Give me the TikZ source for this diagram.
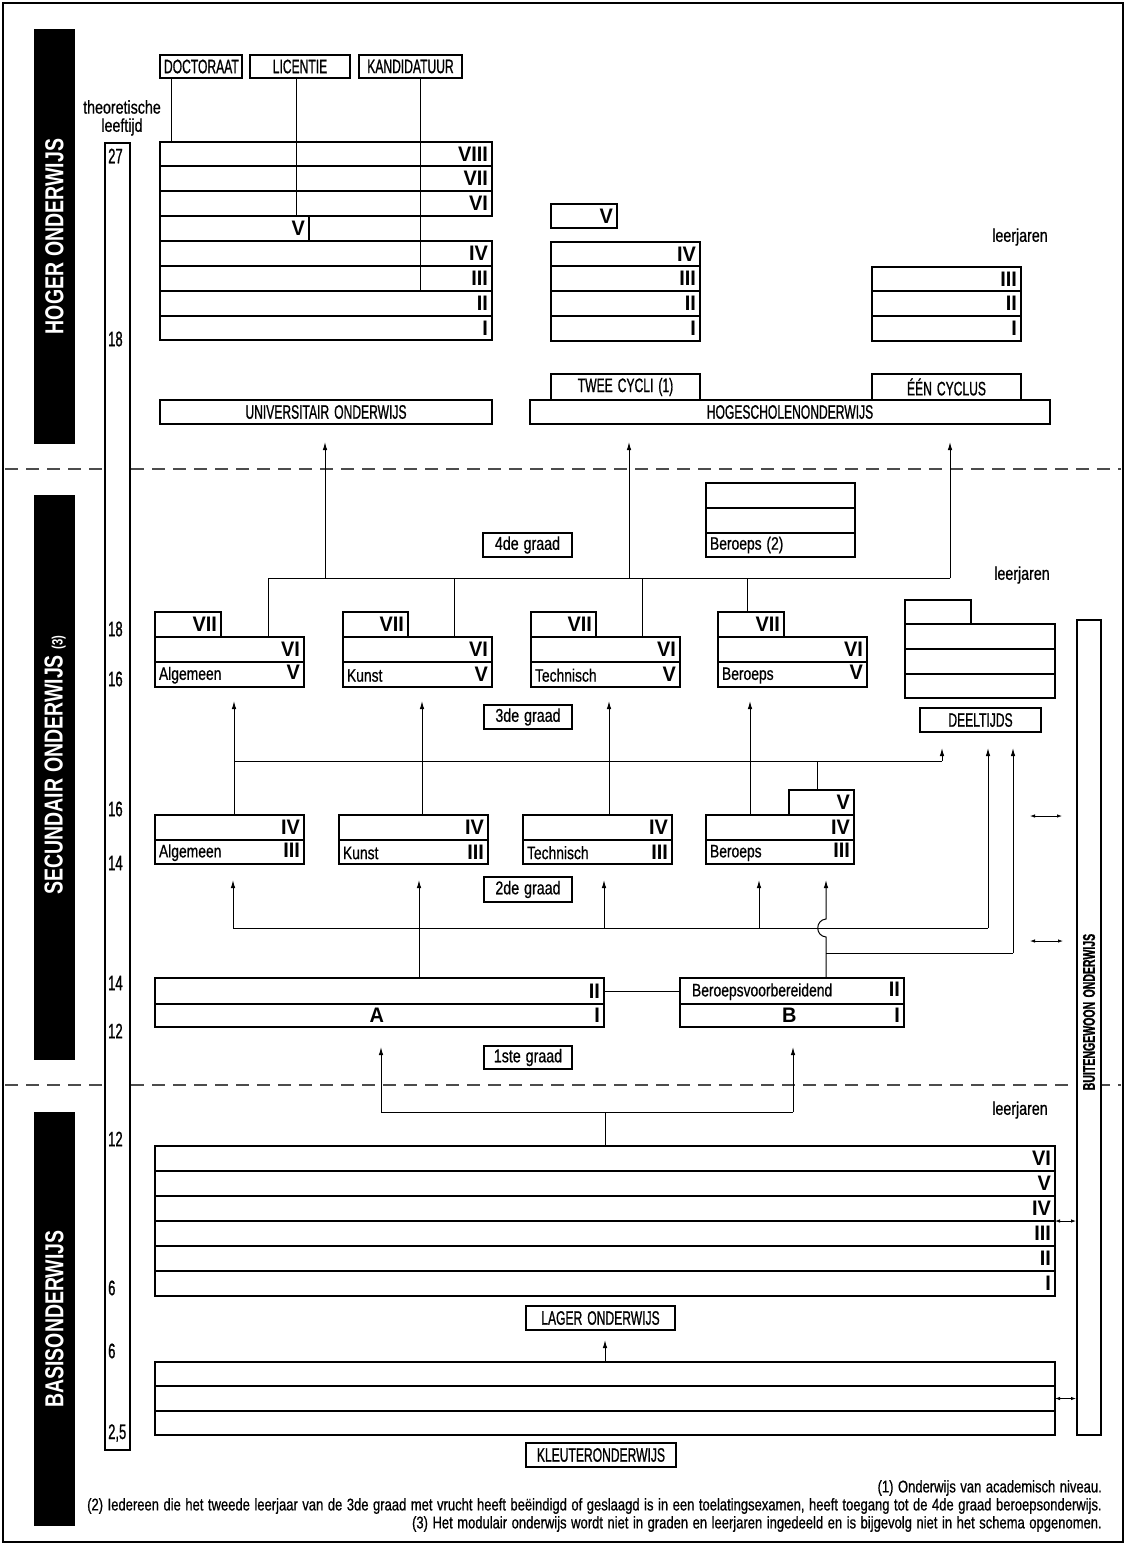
\documentclass[tikz,border=0pt]{standalone}
\usepackage{fontspec}
\setmainfont{Liberation Sans}[FakeStretch=0.77, WordSpace=1.25, FakeBold=0.7]
\newfontfamily\ucf{Liberation Sans}[FakeStretch=0.62, WordSpace=1.5, FakeBold=0.9]
\newfontfamily\numf{Liberation Sans}[FakeStretch=0.95]
\newfontfamily\barf{Liberation Sans}[FakeStretch=0.75, WordSpace=1.1]
\usetikzlibrary{arrows.meta}

\newcommand\nm[1]{{\numf\bfseries\fontsize{21}{21}\selectfont #1}}
\newcommand\mybox[7][rowbox]{%
  \pgfmathsetmacro\rw{#5-#3}\pgfmathsetmacro\rh{#6-#4}\pgfmathsetmacro\tw{#5-#3-8}%
  \pgfmathsetmacro\cx{(#3+#5)/2}\pgfmathsetmacro\cy{(#4+#6)/2}%
  \node[#1, minimum width=\rw pt, minimum height=\rh pt, text width=\tw pt] (#2) at (\cx,\cy) {#7};}

\tikzset{
 rowbox/.style={draw, line width=1.7pt, inner xsep=4pt, inner ysep=0pt, outer sep=0pt, align=flush right, font=\fontsize{18}{20}\selectfont},
 labbox/.style={draw, line width=1.1pt, inner xsep=4pt, inner ysep=0pt, outer sep=0pt, align=flush center, font=\ucf\fontsize{19.5}{20}\selectfont},
 lcbox/.style={labbox, font=\fontsize{18.5}{20}\selectfont},
 colbox/.style={draw, line width=1.2pt, fill=white, inner sep=0pt, outer sep=0pt},
 blackbar/.style={fill=black, inner sep=0pt, outer sep=0pt},
 bartext/.style={text=white, font=\barf\bfseries\fontsize{26}{28}\selectfont, inner sep=0pt},
 conn/.style={line width=1pt},
 arr/.style={conn, -{Latex[length=8pt,width=4.5pt]}},
 darr/.style={line width=0.8pt, {Latex[length=5pt,width=3.5pt]}-{Latex[length=5pt,width=3.5pt]}},
 dashline/.style={line width=1.2pt, dash pattern=on 13pt off 8pt, black!70},
 txt/.style={font=\fontsize{18.5}{20}\selectfont, inner sep=0pt},
 age/.style={font=\ucf\fontsize{21}{21}\selectfont, inner sep=0pt, anchor=west},
 fn/.style={font=\fontsize{16.9}{18}\selectfont, inner sep=0pt, anchor=east},
}

\begin{document}
\begin{tikzpicture}[x=1pt,y=-1pt]
\useasboundingbox (0,0) rectangle (1126,1545);
\draw[line width=2.5pt] (3,3) rectangle (1123,1542);

% dashed separators
\draw[dashline] (5,469) -- (1121,469);
\draw[dashline] (5,1085) -- (1121,1085);

% black title bars
\mybox[blackbar]{barH}{34}{29}{75}{444}{}
\node[bartext, rotate=90] (barHt) at (barH.center) {HOGER ONDERWIJS};
\mybox[blackbar]{barS}{34}{495}{75}{1060}{}
\node[bartext, rotate=90] (barSt) at (55,765) {SECUNDAIR ONDERWIJS {\fontsize{15}{15}\selectfont (3)}};
\mybox[blackbar]{barB}{34}{1112}{75}{1526}{}
\node[bartext, rotate=90] (barBt) at (barB.center) {BASISONDERWIJS};

% age column
\node[txt] (theo) at (122,107) {theoretische};
\node[txt] (leef) at (122,127) {leeftijd};
\mybox[colbox]{agecol}{105}{143}{130}{1450}{}
\node[age] (a1) at (108,156) {27};
\node[age] (a2) at (108,339) {18};
\node[age] (a3) at (108,629) {18};
\node[age] (a4) at (108,679) {16};
\node[age] (a5) at (108,809) {16};
\node[age] (a6) at (108,863) {14};
\node[age] (a7) at (108,983) {14};
\node[age] (a8) at (108,1031) {12};
\node[age] (a9) at (108,1139) {12};
\node[age] (a10) at (108,1288) {6};
\node[age] (a11) at (108,1351) {6};
\node[age] (a12) at (108,1433) {2,5};

% buitengewoon column
\mybox[colbox]{buit}{1077}{620}{1101}{1435}{}
\node[inner sep=0pt, rotate=90, font=\ucf\bfseries\fontsize{17}{17}\selectfont] (buitt) at (1089,1012) {BUITENGEWOON ONDERWIJS};

% ===== HOGER ONDERWIJS =====
\mybox[labbox]{doc}{160}{55}{242}{78}{DOCTORAAT}
\mybox[labbox]{lic}{250}{55}{350}{78}{LICENTIE}
\mybox[labbox]{kand}{359}{55}{462}{78}{KANDIDATUUR}

\mybox{u8}{160}{142}{492}{166}{\nm{VIII}}
\mybox{u7}{160}{166}{492}{191}{\nm{VII}}
\mybox{u6}{160}{191}{492}{216}{\nm{VI}}
\mybox{u5}{160}{216}{309}{241}{\nm{V}}
\draw[line width=1.7pt] (u5.south east) -- (u5.south east -| u6.east);
\mybox{u4}{160}{241}{492}{266}{\nm{IV}}
\mybox{u3}{160}{266}{492}{291}{\nm{III}}
\mybox{u2}{160}{291}{492}{316}{\nm{II}}
\mybox{u1}{160}{316}{492}{340}{\nm{I}}

\path ([xshift=-30pt]doc.south) coordinate (d0);
\path ([xshift=-4pt]lic.south) coordinate (l0);
\path ([xshift=10pt]kand.south) coordinate (k0);
\draw[conn] (d0) -- (d0 |- u8.north);
\draw[conn] (l0) -- (l0 |- u5.north);
\draw[conn] (k0) -- (k0 |- u3.south);

\mybox{h5}{551}{204}{617}{228}{\nm{V}}
\mybox{h4}{551}{242}{700}{266}{\nm{IV}}
\mybox{h3}{551}{266}{700}{291}{\nm{III}}
\mybox{h2}{551}{291}{700}{316}{\nm{II}}
\mybox{h1}{551}{316}{700}{341}{\nm{I}}

\node[txt] (lj1) at (1020,237) {leerjaren};
\mybox{e3}{872}{267}{1021}{291}{\nm{III}}
\mybox{e2}{872}{291}{1021}{316}{\nm{II}}
\mybox{e1}{872}{316}{1021}{341}{\nm{I}}

\mybox[labbox]{twee}{551}{374}{700}{400}{TWEE CYCLI (1)}
\mybox[labbox]{een}{872}{374}{1021}{400}{ÉÉN CYCLUS}
\mybox[labbox]{univ}{160}{400}{492}{424}{UNIVERSITAIR ONDERWIJS}
\mybox[labbox]{hs}{530}{400}{1050}{424}{HOGESCHOLENONDERWIJS}

% ===== SECUNDAIR: 4de graad =====
\mybox[lcbox]{g4}{483}{533}{572}{557}{4de graad}
\mybox{b4a}{706}{483}{855}{508}{}
\mybox{b4b}{706}{508}{855}{533}{}
\mybox[rowbox, align=flush left]{b4c}{706}{533}{855}{557}{Beroeps (2)}
\node[txt] (lj2) at (1022,575) {leerjaren};

% 3de graad boxes
\mybox{alg3t}{155}{612}{221}{637}{\nm{VII}}
\mybox{alg3m}{155}{637}{304}{662}{\nm{VI}}
\mybox{alg3b}{155}{662}{304}{687}{Algemeen\hfill\nm{V}}
\mybox{kun3t}{343}{612}{408}{637}{\nm{VII}}
\mybox{kun3m}{343}{637}{492}{662}{\nm{VI}}
\mybox{kun3b}{343}{662}{492}{687}{Kunst\hfill\nm{V}}
\mybox{tec3t}{531}{612}{596}{637}{\nm{VII}}
\mybox{tec3m}{531}{637}{680}{662}{\nm{VI}}
\mybox{tec3b}{531}{662}{680}{687}{Technisch\hfill\nm{V}}
\mybox{ber3t}{718}{612}{784}{637}{\nm{VII}}
\mybox{ber3m}{718}{637}{867}{662}{\nm{VI}}
\mybox{ber3b}{718}{662}{867}{687}{Beroeps\hfill\nm{V}}

\mybox{dt0}{905}{600}{971}{624}{}
\mybox{dt1}{905}{624}{1055}{649}{}
\mybox{dt2}{905}{649}{1055}{674}{}
\mybox{dt3}{905}{674}{1055}{698}{}
\mybox[labbox]{deel}{920}{708}{1041}{732}{DEELTIJDS}
\mybox[lcbox]{g3}{484}{705}{572}{729}{3de graad}

% 2de graad boxes
\mybox{alg2t}{155}{815}{304}{840}{\nm{IV}}
\mybox{alg2b}{155}{840}{304}{864}{Algemeen\hfill\nm{III}}
\mybox{kun2t}{339}{815}{488}{840}{\nm{IV}}
\mybox{kun2b}{339}{840}{488}{864}{Kunst\hfill\nm{III}}
\mybox{tec2t}{523}{815}{672}{840}{\nm{IV}}
\mybox{tec2b}{523}{840}{672}{864}{Technisch\hfill\nm{III}}
\mybox{ber2v}{789}{790}{854}{815}{\nm{V}}
\mybox{ber2t}{706}{815}{854}{840}{\nm{IV}}
\mybox{ber2b}{706}{840}{854}{864}{Beroeps\hfill\nm{III}}
\mybox[lcbox]{g2}{484}{877}{572}{902}{2de graad}

% 1ste graad boxes
\mybox{a1t}{155}{978}{604}{1004}{\nm{II}}
\mybox{a1b}{155}{1004}{604}{1027}{\hfill\nm{A}\hfill\nm{I}}
\mybox{b1t}{680}{978}{904}{1004}{\hspace*{8pt}Beroepsvoorbereidend\hfill\nm{II}}
\mybox{b1b}{680}{1004}{904}{1027}{\hfill\nm{B}\hfill\nm{I}}
\mybox[lcbox]{g1}{484}{1046}{572}{1069}{1ste graad}

% ===== BASISONDERWIJS =====
\node[txt] (lj3) at (1020,1110) {leerjaren};
\mybox{l6}{155}{1146}{1055}{1171}{\nm{VI}}
\mybox{l5}{155}{1171}{1055}{1196}{\nm{V}}
\mybox{l4}{155}{1196}{1055}{1221}{\nm{IV}}
\mybox{l3}{155}{1221}{1055}{1246}{\nm{III}}
\mybox{l2}{155}{1246}{1055}{1271}{\nm{II}}
\mybox{l1}{155}{1271}{1055}{1296}{\nm{I}}
\mybox[labbox]{lager}{526}{1306}{675}{1330}{LAGER ONDERWIJS}
\mybox{k1}{155}{1362}{1055}{1386}{}
\mybox{k2}{155}{1386}{1055}{1411}{}
\mybox{k3}{155}{1411}{1055}{1435}{}
\mybox[labbox]{kleut}{526}{1443}{676}{1467}{KLEUTERONDERWIJS}

% ===== connectors =====
% to higher education
\coordinate (j4a) at (268,578); \coordinate (j4b) at (325,578);
\coordinate (j4k) at (454,578); \coordinate (j4c) at (629,578);
\coordinate (j4t) at (642,578); \coordinate (j4r) at (747,578);
\coordinate (j4d) at (950,578);
\coordinate (tU) at (325,442); \coordinate (tT) at (629,442); \coordinate (tE) at (950,442);
\draw[conn] (alg3m.north -| j4a) -- (j4a) -- (j4d);
\draw[arr] (j4b) -- (tU);
\draw[arr] (j4c) -- (tT);
\draw[arr] (j4d) -- (tE);
\draw[conn] (kun3m.north -| j4k) -- (j4k);
\draw[conn] (tec3m.north -| j4t) -- (j4t);
\draw[conn] (ber3t.north -| j4r) -- (j4r);

% 2de -> 3de graad
\coordinate (t3a) at (234,701); \coordinate (t3k) at (422,701);
\coordinate (t3t) at (609,701); \coordinate (t3b) at (750,701);
\coordinate (t3d) at (942,748); \coordinate (t3d2) at (988,748); \coordinate (t3d3) at (1013,748);
\coordinate (j3a) at (234,761); \coordinate (j3e) at (942,761); \coordinate (j3v) at (817,761);
\draw[arr] (alg2t.north -| t3a) -- (t3a);
\draw[arr] (kun2t.north -| t3k) -- (t3k);
\draw[arr] (tec2t.north -| t3t) -- (t3t);
\draw[arr] (ber2t.north -| t3b) -- (t3b);
\draw[conn] (j3a) -- (j3e);
\draw[arr] (j3e) -- (t3d);
\draw[conn] (j3v) -- (j3v |- ber2v.north);

% 1ste -> 2de graad
\coordinate (t2a) at (233,880); \coordinate (t2k) at (419,880);
\coordinate (t2t) at (604,880); \coordinate (t2b) at (759,880); \coordinate (t2v) at (826,880);
\coordinate (j2a) at (233,928); \coordinate (j2t) at (604,928); \coordinate (j2b) at (759,928);
\coordinate (j2e) at (988,928);
\coordinate (j2d) at (826,953); \coordinate (j2d2) at (1013,953);
\coordinate (h1) at (826,937); \coordinate (h2) at (826,919);
\path ([xshift=34pt]b1t.north) coordinate (bB);
\draw[conn] (j2a) -- (j2e);
\draw[arr] (j2e) -- (t3d2);
\draw[arr] (j2a) -- (t2a);
\draw[arr] (a1t.north -| t2k) -- (t2k);
\draw[arr] (j2t) -- (t2t);
\draw[arr] (j2b) -- (t2b);
\draw[arr] (bB) -- (h1) .. controls (815,936) and (815,920) .. (h2) -- (t2v);
\draw[conn] (j2d) -- (j2d2);
\draw[arr] (j2d2) -- (t3d3);

% 1ste graad links
\draw[conn] (a1t.east) -- (b1t.west);
\coordinate (j1a) at (381,1112); \coordinate (j1b) at (793,1112);
\coordinate (t1a) at (381,1047); \coordinate (t1b) at (793,1047);
\path (l6.north) ++(0,-34) coordinate (j1m);
\draw[arr] (j1a) -- (t1a);
\draw[arr] (j1b) -- (t1b);
\draw[conn] (j1a) -- (j1b);
\draw[conn] (j1m) -- (l6.north);
\path (k1.north) ++(0,-22) coordinate (tL);
\draw[arr] (k1.north) -- (tL);

% links to buitengewoon onderwijs
\coordinate (d1a) at (1030,816); \coordinate (d1b) at (1062,816);
\coordinate (d2a) at (1030,941); \coordinate (d2b) at (1063,941);
\draw[darr] (d1a) -- (d1b);
\draw[darr] (d2a) -- (d2b);
\draw[darr, shorten >=1pt] (l4.south east) -- (l4.south east -| buit.west);
\draw[darr, shorten >=1pt] (k2.east) -- (k2.east -| buit.west);

% footnotes
\node[fn] (fn1) at (1102,1488) {(1) Onderwijs van academisch niveau.};
\node[fn] (fn2) at (1102,1506) {(2) Iedereen die het tweede leerjaar van de 3de graad met vrucht heeft beëindigd of geslaagd is in een toelatingsexamen, heeft toegang tot de 4de graad beroepsonderwijs.};
\node[fn] (fn3) at (1102,1524) {(3) Het modulair onderwijs wordt niet in graden en leerjaren ingedeeld en is bijgevolg niet in het schema opgenomen.};
\end{tikzpicture}
\end{document}
